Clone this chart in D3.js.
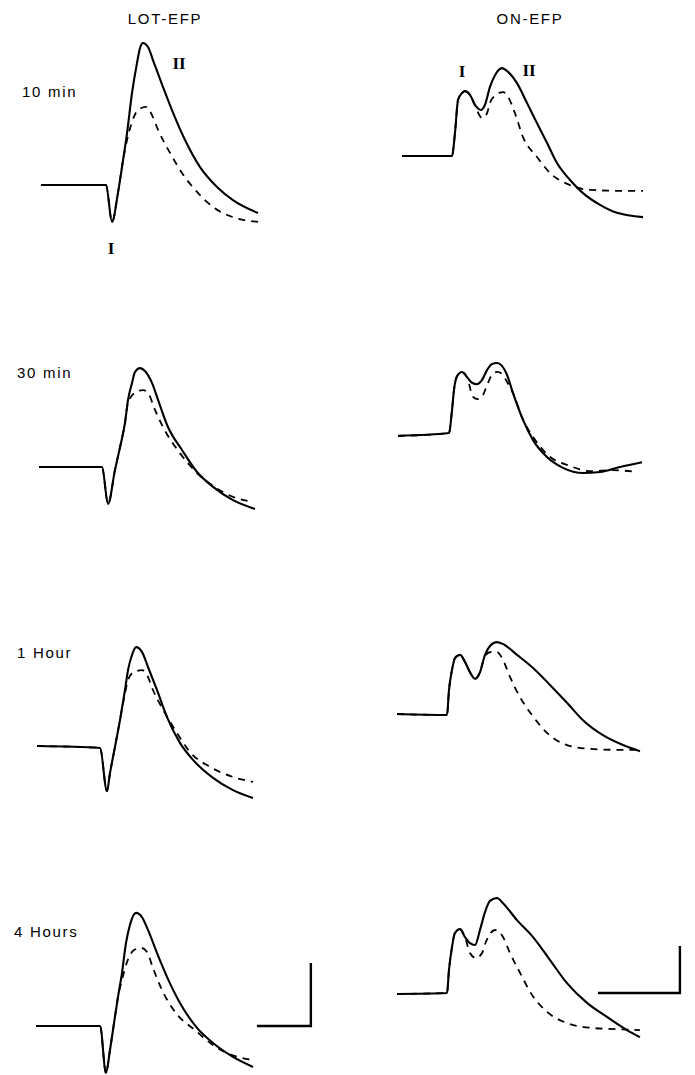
<!DOCTYPE html>
<html>
<head>
<meta charset="utf-8">
<script src="https://cdn.jsdelivr.net/npm/d3@7"></script>
<style>
  html, body { margin: 0; padding: 0; background: #fff; }
  svg { display: block; }
  .lbl { font-family: "Liberation Sans", Arial, sans-serif; font-size: 15px; fill: #000; letter-spacing: 1.7px; }
  .roman { font-family: "Liberation Serif", "DejaVu Serif", serif; font-weight: bold; font-size: 17px; fill: #000; }
</style>
</head>
<body>
<svg id="chart" width="695" height="1075"></svg>
<script>
// Field potentials evoked by LOT and ON stimulation at four times after treatment.
// Time in ms from sweep start, amplitude in mV relative to the pre-stimulus baseline.
// Solid = test response, dashed = control response.

const columnTitles = ["LOT-EFP", "ON-EFP"];
const timeLabels = ["10 min", "30 min", "1 Hour", "4 Hours"];

// ---- LOT-EFP ----
const lot10Solid = [[0.46,0],[6.48,0],[7.04,-1.17],[7.59,-0.25],[8.06,0.79],[8.43,1.65],[8.89,2.92],[9.35,3.87],[9.63,4.35],[9.91,4.51],[10.37,4.38],[10.93,3.87],[11.76,3.11],[12.59,2.38],[13.80,1.43],[15.19,0.57],[16.76,-0.06],[18.24,-0.48],[20.56,-0.89]];
const lot10Dashed = [[0.46,0],[6.48,0],[7.04,-1.17],[7.59,-0.25],[8.06,0.79],[8.43,1.43],[8.89,2.0],[9.44,2.38],[10.19,2.48],[10.74,2.22],[11.30,1.75],[12.41,1.02],[13.52,0.38],[14.91,-0.22],[16.39,-0.70],[18.24,-1.02],[20.56,-1.17]];

const lot30Solid = [[0.28,0],[6.11,0],[6.67,-1.17],[7.31,-0.10],[7.78,0.63],[8.24,1.40],[8.52,2.13],[8.89,2.67],[9.17,3.02],[9.63,3.14],[10.09,3.05],[10.74,2.67],[11.30,2.13],[12.22,1.27],[13.52,0.54],[14.91,-0.16],[16.39,-0.63],[18.24,-1.05],[20.28,-1.33]];
const lot30Dashed = [[0.28,0],[6.11,0],[6.67,-1.17],[7.31,-0.10],[7.78,0.63],[8.24,1.40],[8.52,2.05],[9.26,2.38],[9.91,2.44],[10.37,2.35],[11.02,1.81],[11.76,1.27],[13.33,0.44],[14.91,-0.19],[16.39,-0.60],[18.24,-0.95],[20.09,-1.11]];

const lot60Solid = [[0.09,0.03],[5.93,-0.03],[6.57,-1.40],[6.85,-0.83],[7.31,0],[7.78,0.86],[8.24,1.81],[8.52,2.44],[8.89,2.92],[9.26,3.17],[9.81,3.02],[10.37,2.54],[11.20,1.81],[12.13,0.95],[13.33,0.13],[14.54,-0.41],[16.39,-0.98],[18.24,-1.37],[20.09,-1.62]];
const lot60Dashed = [[0.09,0.03],[5.93,-0.03],[6.57,-1.40],[6.85,-0.83],[7.31,0],[7.78,0.86],[8.24,1.70],[8.52,2.13],[9.07,2.38],[9.81,2.44],[10.28,2.29],[10.83,1.81],[11.94,1.08],[13.06,0.44],[14.26,-0.16],[16.11,-0.63],[18.24,-0.95],[20.09,-1.11]];

const lot240Solid = [[0,0],[5.93,0],[6.48,-1.49],[6.85,-0.76],[7.31,0.29],[7.59,0.92],[7.96,1.68],[8.33,2.63],[8.70,3.21],[9.26,3.59],[9.81,3.46],[10.37,3.05],[11.20,2.32],[12.13,1.56],[13.33,0.73],[14.91,-0.06],[16.39,-0.54],[18.24,-0.98],[20.09,-1.30]];
const lot240Dashed = [[0,0],[5.93,0],[6.48,-1.49],[6.85,-0.76],[7.31,0.29],[7.59,0.92],[7.96,1.46],[8.43,2.03],[9.07,2.41],[9.72,2.48],[10.28,2.35],[10.83,1.84],[11.67,1.14],[12.96,0.41],[14.72,-0.13],[16.94,-0.73],[18.15,-0.92],[20.09,-1.08]];

// ---- ON-EFP ----
const on10Solid = [[0.61,0],[6.71,0],[7.07,0.49],[7.44,1.19],[7.93,1.34],[8.29,1.38],[8.90,1.30],[9.51,1.09],[10.24,0.98],[10.73,1.09],[11.34,1.47],[11.95,1.72],[12.80,1.87],[13.54,1.79],[14.63,1.55],[15.85,1.13],[17.07,0.70],[18.29,0.28],[19.51,-0.15],[21.10,-0.51],[22.68,-0.79],[24.76,-1.04],[26.83,-1.21],[30.0,-1.30]];
const on10Dashed = [[0.61,0],[6.71,0],[7.07,0.49],[7.44,1.19],[7.93,1.34],[8.29,1.38],[8.90,1.30],[9.51,1.07],[10.37,0.81],[10.98,0.91],[11.34,1.13],[12.07,1.30],[12.93,1.36],[13.54,1.26],[14.39,0.91],[15.37,0.40],[17.07,-0.02],[18.66,-0.36],[21.10,-0.62],[23.54,-0.72],[26.83,-0.74],[30.0,-0.74]];

const on30Solid = [[0.12,-0.04],[6.34,0.02],[6.71,0.51],[6.95,0.94],[7.32,1.23],[7.93,1.32],[8.54,1.21],[9.15,1.09],[9.76,1.06],[10.37,1.15],[10.98,1.36],[11.59,1.49],[12.20,1.51],[12.80,1.45],[13.41,1.26],[14.15,0.87],[15.37,0.30],[16.59,-0.13],[18.29,-0.49],[20.24,-0.72],[22.68,-0.83],[24.76,-0.81],[27.20,-0.70],[29.88,-0.60]];
const on30Dashed = [[0.12,-0.04],[6.34,0.02],[6.71,0.51],[6.95,0.94],[7.32,1.23],[7.93,1.32],[8.54,1.21],[9.27,0.79],[9.88,0.74],[10.49,0.83],[10.98,1.04],[11.59,1.26],[12.20,1.32],[12.80,1.28],[13.41,1.11],[14.15,0.87],[15.37,0.30],[16.59,-0.06],[18.41,-0.45],[21.10,-0.68],[23.54,-0.79],[26.34,-0.77],[29.27,-0.81]];

const on60Solid = [[0,0.02],[6.10,0],[6.34,0.53],[6.71,0.96],[7.07,1.21],[7.68,1.28],[8.29,1.13],[8.90,0.91],[9.51,0.77],[10.12,0.91],[10.73,1.28],[11.34,1.47],[12.20,1.55],[12.93,1.51],[14.63,1.28],[16.59,1.00],[18.66,0.64],[20.73,0.26],[22.68,-0.11],[25.12,-0.43],[27.56,-0.64],[29.63,-0.77]];
const on60Dashed = [[0,0.02],[6.10,0],[6.34,0.53],[6.71,0.96],[7.07,1.21],[7.68,1.28],[8.29,1.13],[8.90,0.91],[9.51,0.77],[10.12,0.91],[10.73,1.26],[11.46,1.34],[12.20,1.34],[12.93,1.17],[13.78,0.81],[15.00,0.38],[16.46,0],[18.29,-0.38],[20.73,-0.64],[23.54,-0.72],[26.34,-0.74],[29.27,-0.74]];

const on240Solid = [[0,-0.02],[6.10,0],[6.34,0.49],[6.71,0.98],[7.07,1.28],[7.68,1.36],[8.29,1.19],[8.90,1.06],[9.51,1.02],[10.12,1.34],[10.73,1.72],[11.34,1.96],[12.20,2.02],[12.93,1.91],[14.63,1.55],[16.59,1.19],[18.66,0.70],[20.73,0.21],[23.17,-0.21],[25.61,-0.51],[28.05,-0.79],[29.63,-0.94]];
const on240Dashed = [[0,-0.02],[6.10,0],[6.34,0.49],[6.71,0.98],[7.07,1.28],[7.68,1.36],[8.29,1.19],[8.90,0.85],[9.63,0.74],[10.37,0.85],[10.85,1.09],[11.95,1.34],[12.80,1.23],[13.78,0.85],[15.00,0.43],[16.46,-0.04],[18.29,-0.40],[20.73,-0.64],[23.54,-0.74],[26.83,-0.77],[29.63,-0.79]];

// Calibration bars per column: [ms, mV]
const scaleBarMs = [5, 10];
const scaleBarMv = [2, 1];
// Where each calibration bar starts (ms, on the last row's baseline)
const scaleBarStartMs = [20.45, 24.5];

const lotSolid = [lot10Solid, lot30Solid, lot60Solid, lot240Solid];
const lotDashed = [lot10Dashed, lot30Dashed, lot60Dashed, lot240Dashed];
const onSolid = [on10Solid, on30Solid, on60Solid, on240Solid];
const onDashed = [on10Dashed, on30Dashed, on60Dashed, on240Dashed];

// ---- layout ----
const svg = d3.select("#chart");
const ink = "#000";

const columns = [
  { solid: lotSolid, dashed: lotDashed, x0: 36, pxPerMs: 10.8, pxPerMv: 31.5, baselines: [185, 467, 747, 1026], titleX: 165 },
  { solid: onSolid, dashed: onDashed, x0: 397, pxPerMs: 8.2, pxPerMv: 47, baselines: [156, 434, 715, 993], titleX: 530 }
];
const labelPos = [[22, 97], [17, 378], [17, 658], [14, 937]];

columns.forEach((col, ci) => {
  const x = d3.scaleLinear().domain([0, 30]).range([col.x0, col.x0 + 30 * col.pxPerMs]);

  svg.append("text").attr("class", "lbl")
    .attr("x", col.titleX).attr("y", 24)
    .attr("text-anchor", "middle")
    .text(columnTitles[ci]);

  col.baselines.forEach((base, ri) => {
    const y = d3.scaleLinear().domain([0, 1]).range([base, base - col.pxPerMv]);
    const line = d3.line()
      .x(d => x(d[0]))
      .y(d => y(d[1]))
      .curve(d3.curveMonotoneX);

    svg.append("path")
      .datum(col.dashed[ri])
      .attr("d", line)
      .attr("fill", "none")
      .attr("stroke", ink)
      .attr("stroke-width", 1.8)
      .attr("stroke-dasharray", "7,6");

    svg.append("path")
      .datum(col.solid[ri])
      .attr("d", line)
      .attr("fill", "none")
      .attr("stroke", ink)
      .attr("stroke-width", 2.1)
      .attr("stroke-linejoin", "round");

    if (ri === col.baselines.length - 1) {
      const s = scaleBarStartMs[ci];
      const e = s + scaleBarMs[ci];
      const bar = d3.line().x(d => x(d[0])).y(d => y(d[1]));
      svg.append("path")
        .datum([[s, 0], [e, 0], [e, scaleBarMv[ci]]])
        .attr("d", bar)
        .attr("fill", "none")
        .attr("stroke", ink)
        .attr("stroke-width", 2.4);
    }
  });
});

// Time-point labels on the left
timeLabels.forEach((t, i) => {
  svg.append("text").attr("class", "lbl")
    .attr("x", labelPos[i][0]).attr("y", labelPos[i][1])
    .text(t);
});

// Component labels I and II on the first row
const romanLabels = [
  { text: "I", x: 111, y: 254 },
  { text: "II", x: 179, y: 69 },
  { text: "I", x: 462, y: 77 },
  { text: "II", x: 529, y: 76 }
];
svg.selectAll("text.roman").data(romanLabels).enter().append("text")
  .attr("class", "roman")
  .attr("x", d => d.x).attr("y", d => d.y)
  .attr("text-anchor", "middle")
  .text(d => d.text);
</script>
</body>
</html>
